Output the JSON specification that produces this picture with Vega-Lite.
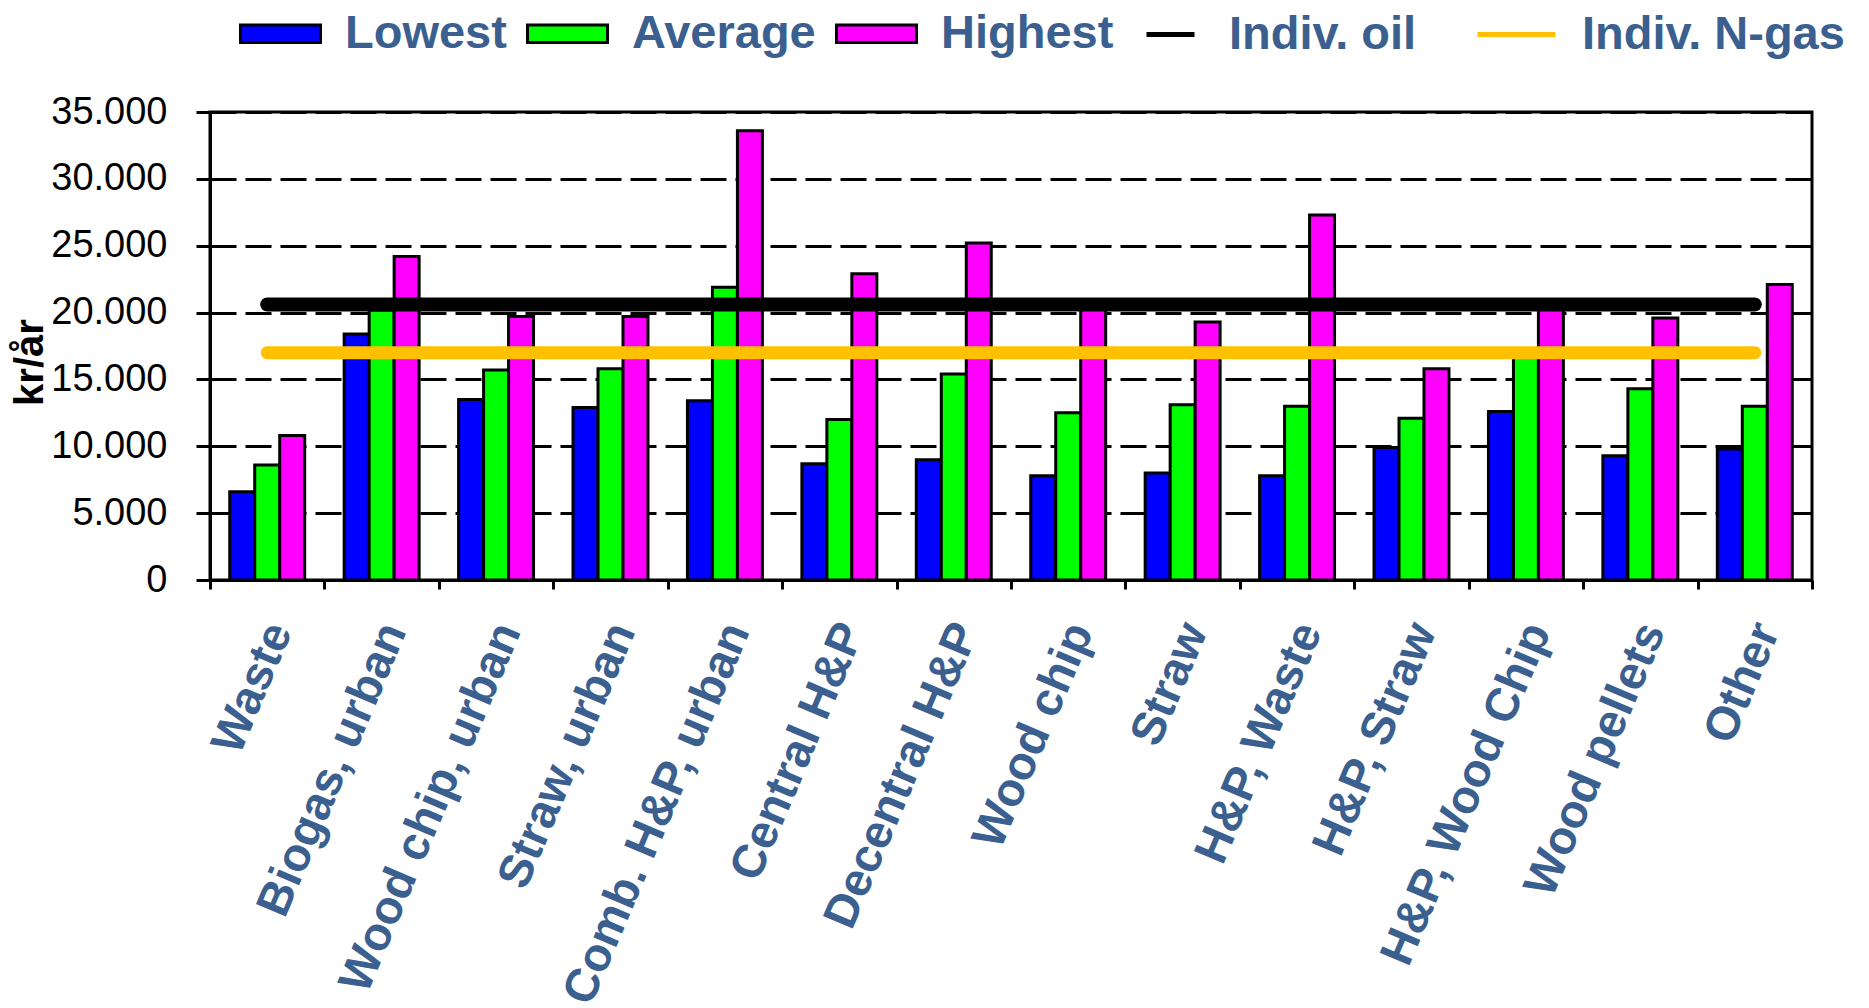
{
  "$schema": "https://vega.github.io/schema/vega-lite/v6.json",
  "width": 1602,
  "height": 468,
  "autosize": {"type": "none"},
  "padding": {"left": 210, "top": 112, "right": 57, "bottom": 428},
  "background": "white",
  "config": {"view": {"stroke": "black", "strokeWidth": 3}, "font": "Liberation Sans"},
  "datasets": {
    "bars": [
      {"category": "Waste", "series": "Lowest", "value": 6600},
      {"category": "Waste", "series": "Average", "value": 8600},
      {"category": "Waste", "series": "Highest", "value": 10800},
      {"category": "Biogas, urban", "series": "Lowest", "value": 18400},
      {"category": "Biogas, urban", "series": "Average", "value": 20200},
      {"category": "Biogas, urban", "series": "Highest", "value": 24200},
      {"category": "Wood chip, urban", "series": "Lowest", "value": 13500},
      {"category": "Wood chip, urban", "series": "Average", "value": 15700},
      {"category": "Wood chip, urban", "series": "Highest", "value": 19700},
      {"category": "Straw, urban", "series": "Lowest", "value": 12900},
      {"category": "Straw, urban", "series": "Average", "value": 15800},
      {"category": "Straw, urban", "series": "Highest", "value": 19700},
      {"category": "Comb. H&P, urban", "series": "Lowest", "value": 13400},
      {"category": "Comb. H&P, urban", "series": "Average", "value": 21900},
      {"category": "Comb. H&P, urban", "series": "Highest", "value": 33600},
      {"category": "Central H&P", "series": "Lowest", "value": 8700},
      {"category": "Central H&P", "series": "Average", "value": 12000},
      {"category": "Central H&P", "series": "Highest", "value": 22900},
      {"category": "Decentral H&P", "series": "Lowest", "value": 9000},
      {"category": "Decentral H&P", "series": "Average", "value": 15400},
      {"category": "Decentral H&P", "series": "Highest", "value": 25200},
      {"category": "Wood chip", "series": "Lowest", "value": 7800},
      {"category": "Wood chip", "series": "Average", "value": 12500},
      {"category": "Wood chip", "series": "Highest", "value": 20300},
      {"category": "Straw", "series": "Lowest", "value": 8000},
      {"category": "Straw", "series": "Average", "value": 13100},
      {"category": "Straw", "series": "Highest", "value": 19300},
      {"category": "H&P, Waste", "series": "Lowest", "value": 7800},
      {"category": "H&P, Waste", "series": "Average", "value": 13000},
      {"category": "H&P, Waste", "series": "Highest", "value": 27300},
      {"category": "H&P, Straw", "series": "Lowest", "value": 9900},
      {"category": "H&P, Straw", "series": "Average", "value": 12100},
      {"category": "H&P, Straw", "series": "Highest", "value": 15800},
      {"category": "H&P, Wood Chip", "series": "Lowest", "value": 12600},
      {"category": "H&P, Wood Chip", "series": "Average", "value": 17200},
      {"category": "H&P, Wood Chip", "series": "Highest", "value": 20300},
      {"category": "Wood pellets", "series": "Lowest", "value": 9300},
      {"category": "Wood pellets", "series": "Average", "value": 14300},
      {"category": "Wood pellets", "series": "Highest", "value": 19600},
      {"category": "Other", "series": "Lowest", "value": 9800},
      {"category": "Other", "series": "Average", "value": 13000},
      {"category": "Other", "series": "Highest", "value": 22100}
    ],
    "lines": [
      {"category": "Waste", "oil": 20600, "gas": 17000},
      {"category": "Biogas, urban", "oil": 20600, "gas": 17000},
      {"category": "Wood chip, urban", "oil": 20600, "gas": 17000},
      {"category": "Straw, urban", "oil": 20600, "gas": 17000},
      {"category": "Comb. H&P, urban", "oil": 20600, "gas": 17000},
      {"category": "Central H&P", "oil": 20600, "gas": 17000},
      {"category": "Decentral H&P", "oil": 20600, "gas": 17000},
      {"category": "Wood chip", "oil": 20600, "gas": 17000},
      {"category": "Straw", "oil": 20600, "gas": 17000},
      {"category": "H&P, Waste", "oil": 20600, "gas": 17000},
      {"category": "H&P, Straw", "oil": 20600, "gas": 17000},
      {"category": "H&P, Wood Chip", "oil": 20600, "gas": 17000},
      {"category": "Wood pellets", "oil": 20600, "gas": 17000},
      {"category": "Other", "oil": 20600, "gas": 17000}
    ]
  },
  "layer": [
    {
      "data": {"name": "bars"},
      "mark": {"type": "bar", "stroke": "black", "strokeWidth": 3},
      "encoding": {
        "x": {
          "field": "category", "type": "nominal", "sort": null,
          "scale": {"type": "band", "paddingInner": 0, "paddingOuter": 0},
          "axis": {
            "title": null, "tickBand": "extent", "tickSize": 9, "tickWidth": 3, "tickColor": "black",
            "domainColor": "black", "domainWidth": 3,
            "labelAngle": -67, "labelAlign": "right", "labelBaseline": "middle",
            "labelFontSize": 47, "labelFontWeight": "bold", "labelColor": "#3B5F8F",
            "labelFont": "Liberation Sans", "labelPadding": 36, "labelOffset": 12,
            "labelLimit": 1000, "labelOverlap": false
          }
        },
        "xOffset": {
          "field": "series", "type": "nominal",
          "scale": {"domain": ["Lowest", "Average", "Highest"], "paddingInner": 0, "paddingOuter": 0.79}
        },
        "y": {
          "field": "value", "type": "quantitative", "title": "kr/år",
          "scale": {"domain": [0, 35000], "nice": false},
          "axis": {
            "values": [0, 5000, 10000, 15000, 20000, 25000, 30000, 35000],
            "format": ",d", "labelExpr": "replace(datum.label, ',', '.')",
            "grid": true, "gridColor": "black", "gridWidth": 3, "gridDash": [26, 9],
            "domainColor": "black", "domainWidth": 3,
            "tickColor": "black", "tickWidth": 3, "tickSize": 14,
            "labelFontSize": 38, "labelColor": "black", "labelPadding": 29, "labelFont": "Liberation Sans",
            "titleFontSize": 40, "titleFontWeight": "bold", "titleColor": "black", "titleFont": "Liberation Sans",
            "titleX": -180, "titleY": 250, "titleAngle": -90, "titleAlign": "center", "titleBaseline": "middle"
          }
        },
        "fill": {
          "field": "series", "type": "nominal",
          "scale": {"domain": ["Lowest", "Average", "Highest"], "range": ["#0000FF", "#00FF00", "#FF00FF"]},
          "legend": {
            "title": null, "orient": "none", "legendX": 29, "legendY": -120, "direction": "horizontal",
            "symbolType": "M-1,-0.22H1V0.22H-1Z", "symbolSize": 6400,
            "symbolStrokeColor": "black", "symbolStrokeWidth": 3,
            "labelFontSize": 47, "labelFontWeight": "bold", "labelColor": "#3B5F8F", "labelFont": "Liberation Sans",
            "labelOffset": 23, "columnPadding": 14, "labelLimit": 1000, "padding": 0
          }
        }
      }
    },
    {
      "data": {"name": "lines"},
      "mark": {"type": "line", "strokeWidth": 14, "strokeCap": "round"},
      "encoding": {
        "x": {"field": "category", "type": "nominal", "sort": null, "scale": {"type": "band", "paddingInner": 0, "paddingOuter": 0}},
        "y": {"field": "oil", "type": "quantitative", "title": "kr/år"},
        "stroke": {
          "datum": "Indiv. oil", "type": "nominal",
          "scale": {"domain": ["Indiv. oil"], "range": ["black"]},
          "legend": {
            "title": null, "orient": "none", "legendX": 934, "legendY": -104,
            "symbolType": "stroke", "symbolSize": 2304, "symbolStrokeWidth": 5,
            "labelFontSize": 47, "labelFontWeight": "bold", "labelColor": "#3B5F8F", "labelFont": "Liberation Sans",
            "labelOffset": 32, "labelLimit": 1000, "padding": 0
          }
        }
      }
    },
    {
      "data": {"name": "lines"},
      "mark": {"type": "line", "strokeWidth": 13, "strokeCap": "round"},
      "encoding": {
        "x": {"field": "category", "type": "nominal", "sort": null, "scale": {"type": "band", "paddingInner": 0, "paddingOuter": 0}},
        "y": {"field": "gas", "type": "quantitative", "title": "kr/år"},
        "stroke": {
          "datum": "Indiv. N-gas", "type": "nominal",
          "scale": {"domain": ["Indiv. N-gas"], "range": ["#FFC000"]},
          "legend": {
            "title": null, "orient": "none", "legendX": 1265, "legendY": -119,
            "symbolType": "stroke", "symbolSize": 6084, "symbolStrokeWidth": 5,
            "labelFontSize": 47, "labelFontWeight": "bold", "labelColor": "#3B5F8F", "labelFont": "Liberation Sans",
            "labelOffset": 24, "labelLimit": 1000, "padding": 0
          }
        }
      }
    }
  ],
  "resolve": {"scale": {"stroke": "independent"}, "legend": {"stroke": "independent"}}
}
